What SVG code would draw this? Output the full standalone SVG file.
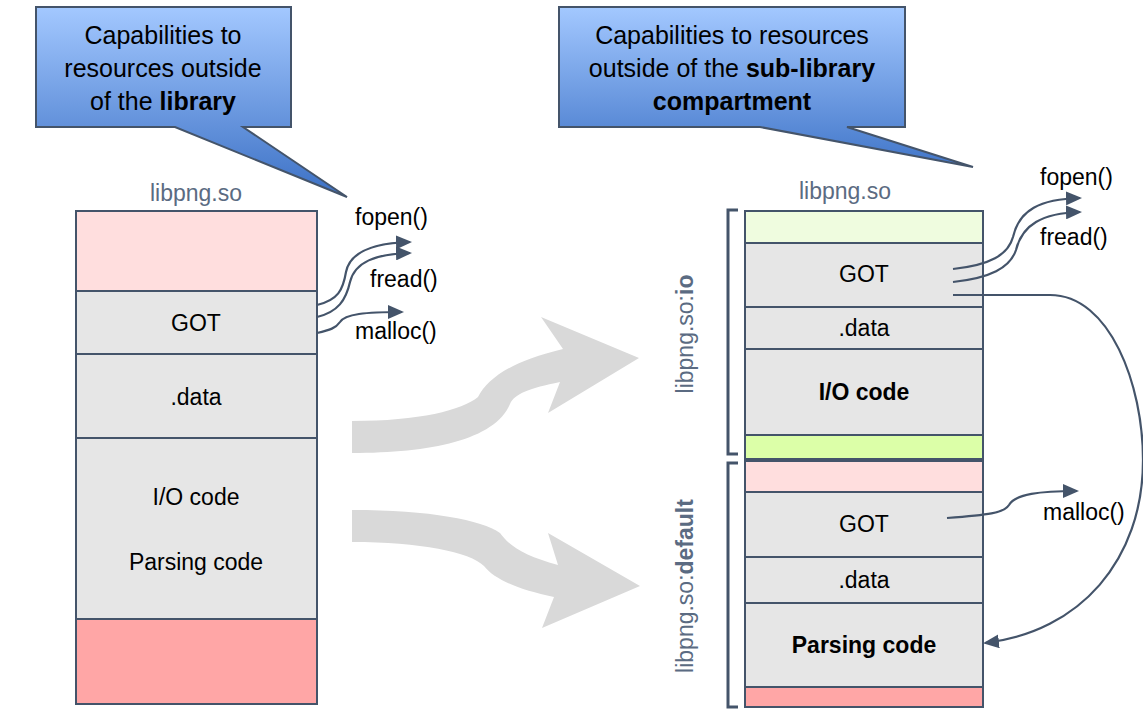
<svg xmlns="http://www.w3.org/2000/svg" width="1143" height="709" viewBox="0 0 1143 709">
<style>
text{font-family:"Liberation Sans",Arial,sans-serif;fill:#000}
.lbl{font-size:23px;text-anchor:middle}
.fn{font-size:23px}
.b{font-weight:bold}
.lib{font-size:23px;fill:#5b6b82;text-anchor:middle}
.co{font-size:25px;text-anchor:middle}
.sec{stroke:#44546A;stroke-width:2}
.pink{fill:#FFDEDE}.red{fill:#FFA6A6}.grey{fill:#E6E6E6}.lg{fill:#EFFCDF}.bg{fill:#DCFFA8}
.conn{fill:none;stroke:#44546A;stroke-width:2.2}
.big{fill:#D9D9D9}
.brk{fill:none;stroke:#44546A;stroke-width:3}
</style>
<defs>
<linearGradient id="gl" gradientUnits="userSpaceOnUse" x1="0" y1="7" x2="0" y2="200">
<stop offset="0" stop-color="#A3C8FF"/><stop offset="1" stop-color="#3A6FC4"/>
</linearGradient>
<linearGradient id="gr" gradientUnits="userSpaceOnUse" x1="0" y1="7" x2="0" y2="170">
<stop offset="0" stop-color="#A3C8FF"/><stop offset="1" stop-color="#3F74C8"/>
</linearGradient>
<marker id="ah" markerUnits="userSpaceOnUse" markerWidth="16" markerHeight="14" refX="14" refY="7" orient="auto">
<path d="M0,0 L16,7 L0,14 Z" fill="#44546A"/>
</marker>
</defs>

<g id="callout-left">
<path d="M36,7 H291 V127 H243 L347,197 L175,127 H36 Z" fill="url(#gl)" stroke="#44546A" stroke-width="2"/>
<text class="co" x="163" y="44">Capabilities to</text>
<text class="co" x="163" y="77">resources outside</text>
<text class="co" x="163" y="110">of the <tspan class="b">library</tspan></text>
</g>

<g id="callout-right">
<path d="M559,7 H905 V127 H847 L973,167 L760,127 H559 Z" fill="url(#gr)" stroke="#44546A" stroke-width="2"/>
<text class="co" x="732" y="44">Capabilities to resources</text>
<text class="co" x="732" y="77">outside of the <tspan class="b">sub-library</tspan></text>
<text class="co" x="732" y="110" font-weight="bold">compartment</text>
</g>

<g id="left-lib">
<text class="lib" x="196" y="201">libpng.so</text>
<rect class="sec pink" x="76" y="211" width="241" height="80"/>
<rect class="sec grey" x="76" y="291" width="241" height="63"/>
<rect class="sec grey" x="76" y="354" width="241" height="84"/>
<rect class="sec grey" x="76" y="438" width="241" height="181"/>
<rect class="sec red" x="76" y="619" width="241" height="85"/>
<text class="lbl" x="196" y="331">GOT</text>
<text class="lbl" x="196" y="405">.data</text>
<text class="lbl" x="196" y="505">I/O code</text>
<text class="lbl" x="196" y="570">Parsing code</text>
</g>

<g id="left-funcs">
<text class="fn" x="355" y="225">fopen()</text>
<text class="fn" x="370" y="287">fread()</text>
<text class="fn" x="355" y="339">malloc()</text>
</g>

<g id="big-arrows">
<path class="big" d="M352,421 C420,421 462,410 478,397 C488,378 512,361 563,349 L541,317 L639,358 L548,413 L560,382 C530,388 514,394 510,404 C495,440 430,453 352,453 Z"/>
<path class="big" d="M352,510 C430,510 482,520 500,533 C510,547 526,556 558,565 L548,533 L640,586 L542,628 L554,597 C520,590 495,580 484,566 C470,552 420,542 352,542 Z"/>
</g>

<g id="io-compartment">
<path class="brk" d="M738,210 H728 V454 H738"/>
<text class="lib" transform="translate(693,334) rotate(-90)">libpng.so:<tspan class="b">io</tspan></text>
<rect class="sec lg" x="745" y="211" width="238" height="32"/>
<rect class="sec grey" x="745" y="243" width="238" height="64"/>
<rect class="sec grey" x="745" y="307" width="238" height="42"/>
<rect class="sec grey" x="745" y="349" width="238" height="86"/>
<rect class="sec bg" x="745" y="435" width="238" height="24"/>
<text class="lbl" x="864" y="282">GOT</text>
<text class="lbl" x="864" y="336">.data</text>
<text class="lbl b" x="864" y="400">I/O code</text>
</g>

<g id="default-compartment">
<path class="brk" d="M738,463 H728 V707 H738"/>
<text class="lib" transform="translate(693,586) rotate(-90)">libpng.so:<tspan class="b">default</tspan></text>
<rect class="sec pink" x="745" y="461" width="238" height="31"/>
<rect class="sec grey" x="745" y="492" width="238" height="65"/>
<rect class="sec grey" x="745" y="557" width="238" height="46"/>
<rect class="sec grey" x="745" y="603" width="238" height="84"/>
<rect class="sec red" x="745" y="687" width="238" height="20"/>
<text class="lbl" x="864" y="532">GOT</text>
<text class="lbl" x="864" y="588">.data</text>
<text class="lbl b" x="864" y="653">Parsing code</text>
</g>

<g id="right-lib-label">
<text class="lib" x="845" y="199">libpng.so</text>
</g>

<g id="right-funcs">
<text class="fn" x="1040" y="185">fopen()</text>
<text class="fn" x="1040" y="245">fread()</text>
<text class="fn" x="1043" y="520">malloc()</text>
</g>

<g id="connectors">
<path class="conn" marker-end="url(#ah)" d="M317,305 C338,300 343,290 346,272 C350,252 372,243 410,242"/>
<path class="conn" marker-end="url(#ah)" d="M317,317 C338,312 346,300 350,282 C355,262 375,254 410,253"/>
<path class="conn" marker-end="url(#ah)" d="M317,333 C330,330 336,328 340,322 C345,314 365,312 402,312"/>
<path class="conn" marker-end="url(#ah)" d="M953,269 C990,265 1008,255 1013,237 C1019,210 1040,199 1080,198"/>
<path class="conn" marker-end="url(#ah)" d="M953,282 C990,278 1010,268 1016,250 C1022,225 1042,213 1080,212"/>
<path class="conn" marker-end="url(#ah)" d="M953,295 L1050,295 C1110,295 1143,385 1143,460 C1143,560 1080,632 985,643"/>
<path class="conn" marker-end="url(#ah)" d="M947,518 C988,515 1004,513 1009,505 C1015,494 1040,491 1077,491"/>
</g>
</svg>
